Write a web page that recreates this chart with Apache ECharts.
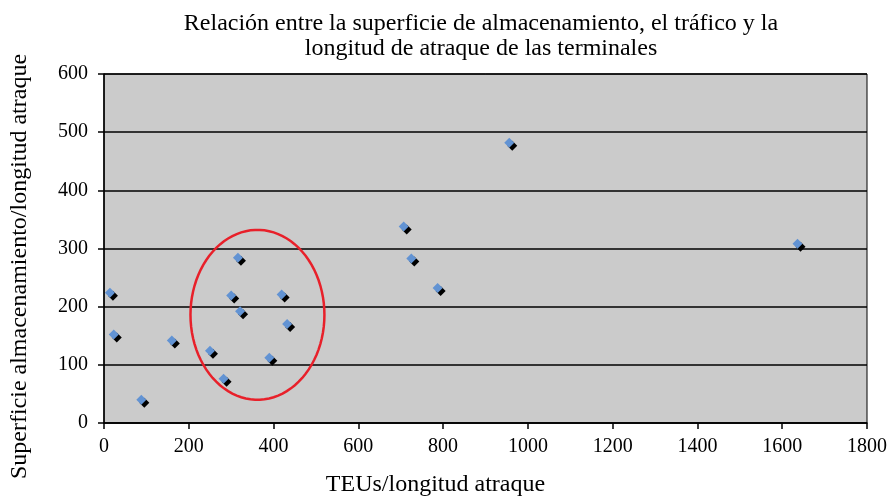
<!DOCTYPE html>
<html lang="es">
<head>
  <meta charset="UTF-8">
  <script src="https://cdn.jsdelivr.net/npm/echarts@6/dist/echarts.min.js"></script>
  <title>Superficie de almacenamiento</title>
</head>
<body>
  <div id="chart"></div>
</body>
<style>
  html,body{
    padding: 0;
    margin: 0;
    height: 100vh;
    width: 100vw;
    background: #fff;
  }
  #chart {
    height: 502px;
    width: 890px;
  }
</style>
</html>
<script>
// TEUs/longitud atraque
const teus = [14, 23, 88, 160, 250, 282, 316, 300, 321, 419, 432, 390, 956, 707, 725, 787, 1636]
// superficie almacenamiento/longitud atraque
const superficie = [224, 152, 40, 142, 124, 76, 284, 219, 192, 221, 170, 112, 482, 338, 283, 232, 308]
// red ellipse around the cluster: centre x, centre y, radius x, radius y (data units)
const ellipse = [[362, 186, 158, 146]]

const pts = teus.map((x, i) => [x, superficie[i]])
const serif = '"Liberation Serif", "DejaVu Serif", serif'

const option = {
  animation: false,
  title: {
    text: 'Relación entre la superficie de almacenamiento, el tráfico y la\nlongitud de atraque de las terminales',
    left: 476,
    textAlign: 'center',
    top: 6,
    textStyle: {
      fontFamily: serif,
      fontWeight: 'normal',
      fontSize: 24,
      lineHeight: 25,
      color: '#000'
    }
  },
  grid: {
    left: 103,
    right: 21,
    top: 74,
    bottom: 74,
    show: true,
    backgroundColor: '#cbcbcb',
    borderColor: '#000',
    borderWidth: 1
  },
  xAxis: {
    type: 'value',
    min: 0,
    max: 1800,
    interval: 200,
    name: 'TEUs/longitud atraque',
    nameLocation: 'middle',
    nameGap: 50,
    nameTextStyle: { fontFamily: serif, fontSize: 24, color: '#000', padding: [0, 100, 0, 0] },
    axisLine: { lineStyle: { color: '#000', width: 1.5 } },
    axisTick: { show: true, length: 6, lineStyle: { color: '#000', width: 1.5 } },
    axisLabel: {
      fontFamily: serif, fontSize: 20, color: '#000', margin: 14,
      formatter: (value) => String(value)
    },
    splitLine: { show: false }
  },
  yAxis: {
    type: 'value',
    min: 0,
    max: 600,
    interval: 100,
    name: 'Superficie almacenamiento/longitud atraque',
    nameLocation: 'middle',
    nameGap: 72,
    nameTextStyle: { fontFamily: serif, fontSize: 24, color: '#000', padding: [0, 36, 0, 0] },
    axisLine: { show: true, lineStyle: { color: '#000', width: 1.5 } },
    axisTick: { show: true, length: 6, lineStyle: { color: '#000', width: 1.5 } },
    axisLabel: { fontFamily: serif, fontSize: 20, color: '#000', margin: 16 },
    splitLine: { show: true, lineStyle: { color: '#000', width: 1.5 } }
  },
  series: [
    {
      // marker shadow
      type: 'scatter',
      data: pts,
      symbol: 'diamond',
      symbolSize: [10, 10],
      symbolOffset: [3, 3],
      itemStyle: { color: '#000', opacity: 1 },
      silent: true,
      z: 2
    },
    {
      type: 'scatter',
      data: pts,
      symbol: 'diamond',
      symbolSize: [10, 10],
      itemStyle: { color: '#6293d3', opacity: 1 },
      z: 3
    },
    {
      type: 'custom',
      data: ellipse,
      silent: true,
      z: 4,
      renderItem: (params, api) => {
        const cx = api.value(0), cy = api.value(1)
        const rx = api.value(2), ry = api.value(3)
        const points = []
        for (let k = 0; k < 90; k++) {
          const t = k / 90 * Math.PI * 2
          points.push(api.coord([cx + rx * Math.cos(t), cy + ry * Math.sin(t)]))
        }
        return {
          type: 'polygon',
          shape: { points: points },
          style: { fill: 'none', stroke: '#e8202a', lineWidth: 2.5 }
        }
      }
    }
  ]
};

const myChart = echarts.init(document.getElementById('chart'));
myChart.setOption(option);
</script>
